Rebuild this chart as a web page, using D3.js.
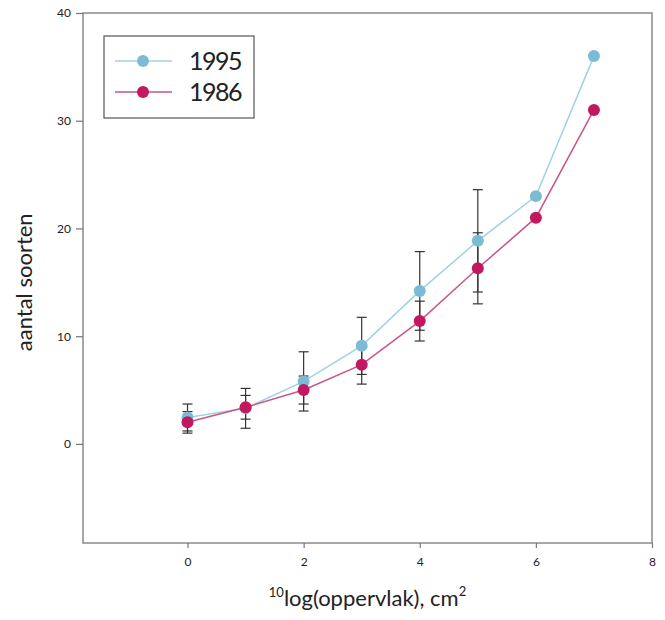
<!DOCTYPE html>
<html>
<head>
<meta charset="utf-8">
<script src="https://cdn.jsdelivr.net/npm/d3@7"></script>
<style>
  body { margin: 0; background: #fff; }
  text { font-family: Lato, "Open Sans", sans-serif; fill: #222; }
</style>
</head>
<body>
<div id="chart"></div>
<script>
var svgWidth = 665;
var svgHeight = 620;

// data
var xValues = [0, 1, 2, 3, 4, 5, 6, 7];
var y1995 = [2.45, 3.3, 5.8, 9.1, 14.2, 18.85, 23.0, 36.0];
var y1986 = [2.0, 3.4, 5.0, 7.35, 11.4, 16.3, 21.0, 31.0];
var err1995 = [1.25, 1.85, 2.75, 2.65, 3.65, 4.75, null, null];
var err1986 = [1.0, 1.1, 1.3, 1.8, 1.85, 3.3, null, null];
var xTicks = [0, 2, 4, 6, 8];
var yTicks = [0, 10, 20, 30, 40];

var margin = { top: 13, right: 13, bottom: 77, left: 83 };
var width = svgWidth - margin.left - margin.right;
var height = svgHeight - margin.top - margin.bottom;

var svg = d3.select("#chart").append("svg").attr("width", svgWidth).attr("height", svgHeight);
var chartGroup = svg.append("g").attr("transform", `translate(${margin.left}, ${margin.top})`);

var xScale = d3.scaleLinear().domain([-1.8, 8]).range([0, width]);
var yScale = d3.scaleLinear().domain([-9.2, 40]).range([height, 0]);

// frame
chartGroup.append("rect")
    .attr("width", width).attr("height", height)
    .attr("fill", "none").attr("stroke", "#8a8a8a").attr("stroke-width", 1.5);

// axes
var xAxis = d3.axisBottom(xScale).tickValues(xTicks).tickSize(5).tickPadding(9);
var yAxis = d3.axisLeft(yScale).tickValues(yTicks).tickSize(7).tickPadding(5);

var gx = chartGroup.append("g").attr("transform", `translate(0, ${height})`).call(xAxis);
var gy = chartGroup.append("g").call(yAxis);
[gx, gy].forEach(function(g) {
    g.select(".domain").remove();
    g.selectAll(".tick line").attr("stroke", "#777").attr("stroke-width", 1.2);
    g.selectAll(".tick text").style("font-size", "12px").style("font-family", "Lato, sans-serif").attr("fill", "#222");
});

// error bars
function drawErrors(vals, errs) {
    xValues.forEach(function(x, i) {
        if (errs[i] == null) return;
        var px = xScale(x), top = yScale(vals[i] + errs[i]), bot = yScale(vals[i] - errs[i]);
        var g = chartGroup.append("g").attr("stroke", "#333").attr("stroke-width", 1.2);
        g.append("line").attr("x1", px).attr("x2", px).attr("y1", top).attr("y2", bot);
        g.append("line").attr("x1", px - 5).attr("x2", px + 5).attr("y1", top).attr("y2", top);
        g.append("line").attr("x1", px - 5).attr("x2", px + 5).attr("y1", bot).attr("y2", bot);
    });
}
drawErrors(y1995, err1995);
drawErrors(y1986, err1986);

var line = d3.line().x(d => xScale(d[0])).y(d => yScale(d[1]));

function drawSeries(vals, lineColor, dotColor) {
    var pts = xValues.map((x, i) => [x, vals[i]]);
    chartGroup.append("path").datum(pts)
        .attr("d", line).attr("fill", "none")
        .attr("stroke", lineColor).attr("stroke-width", 1.5);
    chartGroup.selectAll(null).data(pts).enter().append("circle")
        .attr("cx", d => xScale(d[0])).attr("cy", d => yScale(d[1]))
        .attr("r", 6).attr("fill", dotColor);
}
drawSeries(y1995, "#9fd3e3", "#7bbbd6");
drawSeries(y1986, "#c9558a", "#c3175f");

// legend
var legend = svg.append("g").attr("transform", "translate(104, 36)");
legend.append("rect").attr("width", 150).attr("height", 82)
    .attr("fill", "#fff").attr("stroke", "#555").attr("stroke-width", 1.2);
var legendItems = [["1995", "#9fd3e3", "#7bbbd6"], ["1986", "#c9558a", "#c3175f"]];
legendItems.forEach(function(d, i) {
    var y = 25 + i * 31;
    legend.append("line").attr("x1", 11).attr("x2", 68).attr("y1", y).attr("y2", y)
        .attr("stroke", d[1]).attr("stroke-width", 1.5);
    legend.append("circle").attr("cx", 39).attr("cy", y).attr("r", 6).attr("fill", d[2]);
    legend.append("text").attr("x", 85).attr("y", y + 9)
        .style("font-size", "25px").style("letter-spacing", "-1.5px").text(d[0]);
});

// axis titles
svg.append("text")
    .attr("transform", `translate(32, ${margin.top + yScale(15)}) rotate(-90)`)
    .attr("text-anchor", "middle").style("font-size", "22px")
    .text("aantal soorten");

var xt = svg.append("text")
    .attr("x", margin.left + xScale(3.1)).attr("y", 606)
    .attr("text-anchor", "middle").style("font-size", "22px");
xt.append("tspan").attr("dy", -9).style("font-size", "13px").text("10");
xt.append("tspan").attr("dy", 9).text("log(oppervlak), cm");
xt.append("tspan").attr("dy", -10).style("font-size", "13px").text("2");
</script>
</body>
</html>
